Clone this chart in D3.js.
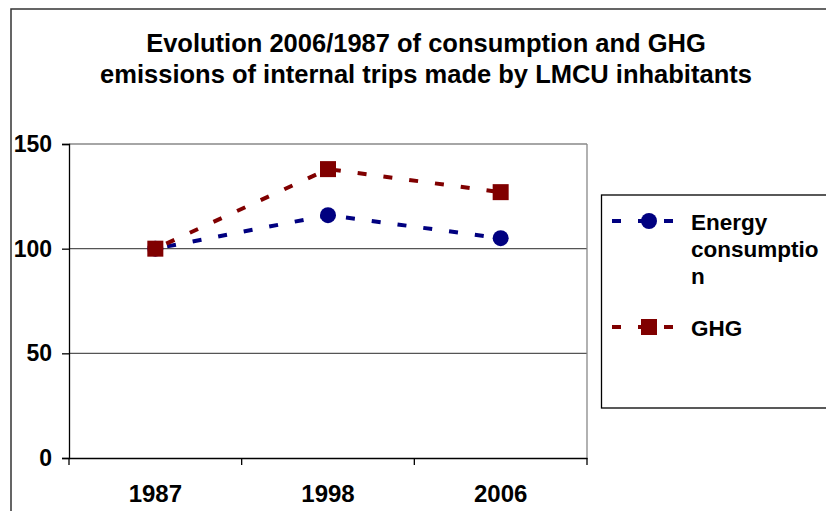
<!DOCTYPE html>
<html>
<head>
<meta charset="utf-8">
<script src="https://cdn.jsdelivr.net/npm/d3@7.9.0/dist/d3.min.js"></script>
<style>
  body { margin: 0; background: #fff; }
  svg { display: block; font-family: "Liberation Sans", Arial, sans-serif; }
</style>
</head>
<body>
<svg id="chart" width="826" height="511"></svg>
<script>
const years = ['1987', '1998', '2006'];
const energy = [100, 116, 105];
const ghg = [100, 138, 127];
const yTicks = [0, 50, 100, 150];
const titleLines = ['Evolution 2006/1987 of consumption and GHG',
                    'emissions of internal trips made by LMCU inhabitants'];
const legendLabels = [['Energy', 'consumptio', 'n'], ['GHG']];

const svg = d3.select('#chart');
const plot = { left: 69, right: 587, top: 144, bottom: 458 };
const font = '"Liberation Sans", Arial, sans-serif';

// outer frame (right/bottom run off the picture)
svg.append('rect')
  .attr('x', 11).attr('y', 9).attr('width', 830).attr('height', 520)
  .attr('fill', 'none').attr('stroke', '#333').attr('stroke-width', 1.5);

svg.selectAll('.title')
  .data(titleLines)
  .enter().append('text')
  .attr('x', 426).attr('y', (d, i) => 52 + i * 31)
  .attr('text-anchor', 'middle')
  .attr('font-size', 25.5).attr('font-weight', 'bold')
  .text(d => d);

let x = d3.scaleBand().domain(years).range([plot.left, plot.right]);
let y = d3.scaleLinear().domain([0, 150]).range([plot.bottom, plot.top]);

// gridlines
svg.selectAll('.grid')
  .data(yTicks.filter(d => d > 0))
  .enter().append('line')
  .attr('x1', plot.left).attr('x2', plot.right)
  .attr('y1', d => y(d)).attr('y2', d => y(d))
  .attr('stroke', d => d === 150 ? '#888' : '#555').attr('stroke-width', 1.3);

svg.append('line')
  .attr('x1', plot.right).attr('x2', plot.right)
  .attr('y1', plot.top).attr('y2', plot.bottom)
  .attr('stroke', '#888').attr('stroke-width', 1.3);

// y axis
let yAxis = svg.append('g')
  .attr('transform', `translate(${plot.left},0)`)
  .call(d3.axisLeft(y).tickValues(yTicks).tickSize(7).tickPadding(10));
yAxis.select('.domain').attr('stroke', '#000').attr('stroke-width', 1.3);
yAxis.selectAll('.tick line').attr('stroke', '#000').attr('stroke-width', 1.3);
yAxis.selectAll('text').attr('font-size', 23).attr('font-weight', 'bold')
  .attr('font-family', font).attr('fill', '#000');

// x axis
let xAxis = svg.append('g')
  .attr('transform', `translate(0,${plot.bottom})`)
  .call(d3.axisBottom(x).tickSize(0).tickPadding(27));
xAxis.select('.domain').attr('stroke', '#000').attr('stroke-width', 1.3);
xAxis.selectAll('text').attr('font-size', 24).attr('font-weight', 'bold')
  .attr('font-family', font).attr('fill', '#000');
let bounds = [x.range()[0]].concat(years.map(d => x(d) + x.bandwidth()));
svg.selectAll('.xtick')
  .data(bounds)
  .enter().append('line')
  .attr('x1', d => d).attr('x2', d => d)
  .attr('y1', plot.bottom).attr('y2', plot.bottom + 7)
  .attr('stroke', '#000').attr('stroke-width', 1.3);

const cx = d => x(d) + x.bandwidth() / 2;
let series = [
  { values: energy, color: '#000080', shape: 'circle' },
  { values: ghg, color: '#800000', shape: 'square' }
];

let line = d3.line().x((d, i) => cx(years[i])).y(d => y(d));

function marker(g, shape, color, px, py) {
  if (shape === 'circle') {
    g.append('circle').attr('cx', px).attr('cy', py).attr('r', 8).attr('fill', color);
  } else {
    g.append('rect').attr('x', px - 8).attr('y', py - 8)
      .attr('width', 16).attr('height', 16).attr('fill', color);
  }
}

series.forEach(s => {
  svg.append('path')
    .attr('d', line(s.values))
    .attr('fill', 'none').attr('stroke', s.color)
    .attr('stroke-width', 4).attr('stroke-dasharray', '9,17')
    .attr('stroke-dashoffset', -12);
  let g = svg.append('g');
  s.values.forEach((v, i) => marker(g, s.shape, s.color, cx(years[i]), y(v)));
});

// legend
svg.append('rect')
  .attr('x', 601.5).attr('y', 195).attr('width', 260).attr('height', 213)
  .attr('fill', 'none').attr('stroke', '#000').attr('stroke-width', 1.3);

let legendY = [221, 327];
series.forEach((s, i) => {
  let ly = legendY[i];
  svg.append('line')
    .attr('x1', 612).attr('x2', 673).attr('y1', ly).attr('y2', ly)
    .attr('stroke', s.color).attr('stroke-width', 4)
    .attr('stroke-dasharray', '9,17');
  marker(svg, s.shape, s.color, 649, ly);
  svg.selectAll(null)
    .data(legendLabels[i])
    .enter().append('text')
    .attr('x', 691).attr('y', (d, j) => ly + 9 + j * 27)
    .attr('font-size', 22.5).attr('font-weight', 'bold')
    .text(d => d);
});
</script>
</body>
</html>
